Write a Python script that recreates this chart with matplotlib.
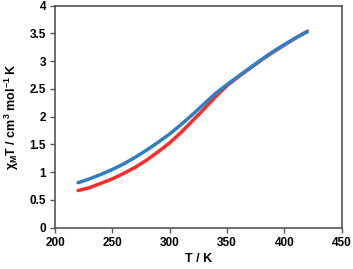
import matplotlib
matplotlib.use("Agg")
import matplotlib.pyplot as plt

# data
temp = [220, 230, 240, 250, 260, 270, 280, 290, 300, 310, 320,
        330, 340, 350, 360, 370, 380, 390, 400, 410, 420]
chiT_blue = [0.81, 0.88, 0.96, 1.05, 1.15, 1.27, 1.40, 1.54, 1.69, 1.86, 2.04,
             2.23, 2.42, 2.58, 2.73, 2.88, 3.03, 3.17, 3.30, 3.42, 3.53]
chiT_red = [0.67, 0.72, 0.80, 0.88, 0.98, 1.09, 1.22, 1.37, 1.53, 1.72, 1.93,
            2.14, 2.36, 2.56, 2.72, 2.87, 3.02, 3.16, 3.29, 3.42, 3.54]

x_ticks = [200, 250, 300, 350, 400, 450]
y_ticks = [0, 0.5, 1, 1.5, 2, 2.5, 3, 3.5, 4]
y_ticklabels = ["0", "0.5", "1", "1.5", "2", "2.5", "3", "3.5", "4"]

plt.rcParams['font.family'] = ['Liberation Sans', 'DejaVu Sans']
plt.rcParams['mathtext.fontset'] = 'custom'
plt.rcParams['mathtext.rm'] = 'Liberation Sans:bold'
plt.rcParams['mathtext.it'] = 'Liberation Sans:bold'
plt.rcParams['mathtext.bf'] = 'Liberation Sans:bold'

fig = plt.figure(figsize=(3.53, 2.69), dpi=100)
ax = fig.add_axes([0.156, 0.1535, 0.812, 0.8255])

ax.plot(temp, chiT_red, color='#ff2a2a', lw=2.5, solid_capstyle='round')
ax.plot(temp, chiT_blue, color='#2f7fc4', lw=2.5, solid_capstyle='round')

ax.set_xlim(200, 450)
ax.set_ylim(0, 4)
ax.set_xticks(x_ticks)
ax.set_yticks(y_ticks)
ax.set_yticklabels(y_ticklabels)

for s in ax.spines.values():
    s.set_color('#555555')
    s.set_linewidth(1.2)
ax.tick_params(direction='out', length=3.5, width=1.0, color='#555555',
               labelsize=8.5, pad=3)
for lab in ax.get_xticklabels() + ax.get_yticklabels():
    lab.set_fontweight('bold')

ax.set_xlabel("T / K", fontsize=9, fontweight='bold', labelpad=3)
ax.set_ylabel(r"$\chi_{\rm M}$T / cm$^{3}$ mol$^{-1}$ K", fontsize=9,
              fontweight='bold', labelpad=6)

fig.savefig("out.png", dpi=100)
